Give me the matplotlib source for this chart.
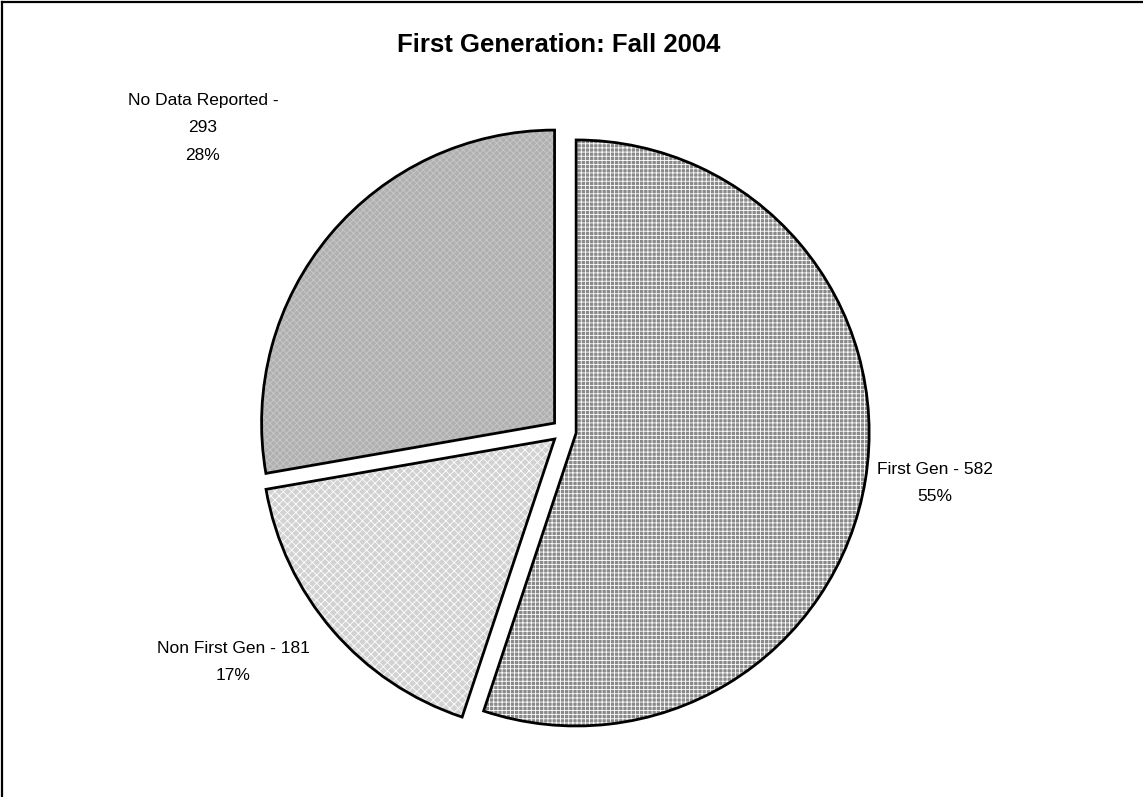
import matplotlib
matplotlib.use("Agg")
import matplotlib.pyplot as plt
from matplotlib.lines import Line2D

labels = ["First Gen", "Non First Gen", "No Data Reported"]
counts = [582, 181, 293]
pcts = ["55%", "17%", "28%"]
fills = ["#8a8a8a", "#d2d2d2", "#b0b0b0"]
hatches = ["++++", "xxxx", "xxxxx"]
hatch_cols = ["white", "white", "#c8c8c8"]

plt.rcParams["font.family"] = ["Liberation Sans", "DejaVu Sans"]
plt.rcParams["hatch.linewidth"] = 0.6

W, H = 1143, 797
fig = plt.figure(figsize=(W / 100, H / 100), dpi=100)
ax = fig.add_axes([0, 0, 1, 1])

# pie centre / radius in pixels
cx, cy, r = 564, 431, 293
expl = [0.042] * 3

# pattern layer
w1, _ = ax.pie(counts, startangle=90, counterclock=False, explode=expl,
               colors=fills, wedgeprops=dict(linewidth=0), frame=True)
for w, h, hc in zip(w1, hatches, hatch_cols):
    w.set_hatch(h)
    w.set_edgecolor(hc)
    w.set_linewidth(0)

# outlines
ax.pie(counts, startangle=90, counterclock=False, explode=expl,
       wedgeprops=dict(linewidth=2, edgecolor="black", facecolor="none"),
       frame=True)
ax.set_xlim(-cx / r, (W - cx) / r)
ax.set_ylim(-(H - cy) / r, cy / r)
ax.set_aspect("auto")
ax.axis("off")

def px(x, y):
    return x / W, 1 - y / H

fig.text(*px(559, 45), "First Generation: Fall 2004", ha="center", va="center",
         fontsize=18.5, fontweight="bold")

fig.text(*px(935, 483), f"{labels[0]} - {counts[0]}\n{pcts[0]}", ha="center", va="center",
         fontsize=12.5, linespacing=2.05)
fig.text(*px(233, 662), f"{labels[1]} - {counts[1]}\n{pcts[1]}", ha="center", va="center",
         fontsize=12.5, linespacing=2.05)
fig.text(*px(203, 128), f"{labels[2]} -\n{counts[2]}\n{pcts[2]}", ha="center", va="center",
         fontsize=12.5, linespacing=2.05)

# chart area border (only top and left visible)
fig.add_artist(Line2D([2 / W, 2 / W], [0, 1 - 2 / H], color="black", lw=1.6))
fig.add_artist(Line2D([2 / W, 1], [1 - 2 / H, 1 - 2 / H], color="black", lw=1.6))

fig.savefig("out.png", dpi=100)
